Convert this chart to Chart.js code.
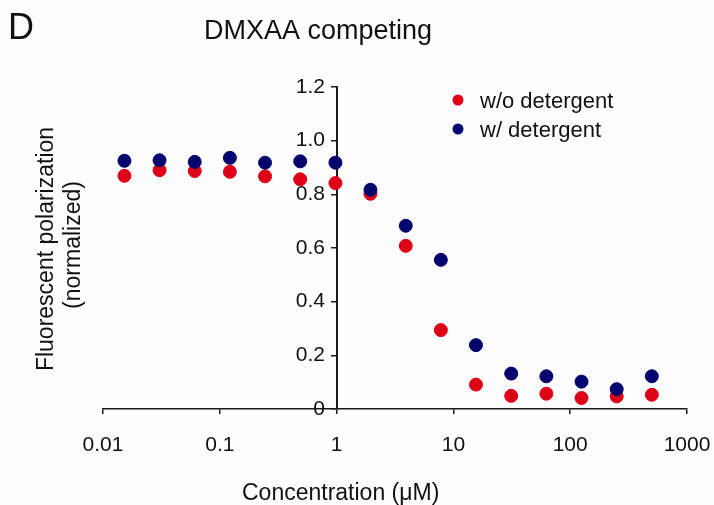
<!DOCTYPE html>
<html>
<head>
<meta charset="utf-8">
<script src="https://cdn.jsdelivr.net/npm/chart.js@4/dist/chart.umd.min.js"></script>
<style>
  body { margin: 0; background: #fdfdfd; }
  #wrap { width: 714px; height: 505px; }
</style>
</head>
<body>
<div id="wrap"><canvas id="fpChart"></canvas></div>
<script>
// concentrations (uM), two-fold dilution from 500
const concentrations = [0.01526, 0.0305, 0.061, 0.122, 0.244, 0.488, 0.977, 1.95, 3.91, 7.81, 15.6, 31.25, 62.5, 125, 250, 500];
const withoutDetergent = [0.869, 0.890, 0.887, 0.884, 0.867, 0.856, 0.842, 0.802, 0.608, 0.294, 0.091, 0.049, 0.057, 0.041, 0.047, 0.053];
const withDetergent = [0.925, 0.927, 0.921, 0.936, 0.918, 0.923, 0.918, 0.817, 0.683, 0.556, 0.238, 0.132, 0.122, 0.102, 0.074, 0.122];
const xTickValues = [0.01, 0.1, 1, 10, 100, 1000];
const yTickValues = [0, 0.2, 0.4, 0.6, 0.8, 1.0, 1.2];

const colors = {
  red: "rgb(221, 0, 22)",
  navy: "rgb(4, 4, 110)",
  axis: "#1a1a1a",
  text: "#111"
};
const fontFamily = "'Liberation Sans', Arial, sans-serif";

function toPoints(values) {
  return concentrations.map((c, i) => ({x: c, y: values[i]}));
}

// panel letter, title, axis titles and legend drawn on top
const annotations = {
  id: 'annotations',
  afterDraw(chart) {
    const ctx = chart.ctx;
    ctx.save();
    ctx.fillStyle = colors.text;
    ctx.textBaseline = 'alphabetic';
    ctx.textAlign = 'left';

    ctx.font = "36px " + fontFamily;
    ctx.fillText("D", 8, 39);

    ctx.font = "27px " + fontFamily;
    ctx.fillText("DMXAA competing", 204, 39);

    ctx.font = "23px " + fontFamily;
    ctx.fillText("Concentration (μM)", 242, 500);

    // y title, two lines rotated
    ctx.save();
    ctx.translate(47, 249);
    ctx.rotate(-Math.PI / 2);
    ctx.textAlign = 'center';
    ctx.textBaseline = 'middle';
    ctx.font = "23px " + fontFamily;
    ctx.fillText("Fluorescent polarization", 0, 0);
    ctx.fillText("(normalized)", 4, 27);
    ctx.restore();

    // legend
    ctx.font = "22px " + fontFamily;
    ctx.textBaseline = 'middle';
    chart.data.datasets.forEach((ds, i) => {
      const y = 102 + i * 29;
      ctx.beginPath();
      ctx.fillStyle = ds.backgroundColor;
      ctx.arc(458, y - 2, 5.5, 0, Math.PI * 2);
      ctx.fill();
      ctx.fillStyle = colors.text;
      ctx.fillText(ds.label, 480, y);
    });
    ctx.restore();
  }
};

const ctx = document.getElementById("fpChart").getContext('2d');
const chart = new Chart(ctx, {
  type: 'scatter',
  data: {
    datasets: [{
      label: "w/o detergent",
      data: toPoints(withoutDetergent),
      backgroundColor: colors.red,
      borderColor: colors.red,
      pointRadius: 6.5,
      order: 1
    }, {
      label: "w/ detergent",
      data: toPoints(withDetergent),
      backgroundColor: colors.navy,
      borderColor: colors.navy,
      pointRadius: 6.5,
      order: 0
    }]
  },
  options: {
    animation: false,
    responsive: true,
    maintainAspectRatio: false,
    layout: {
      padding: {top: 87, left: 103, right: 27, bottom: 36}
    },
    plugins: {
      legend: {display: false},
      tooltip: {enabled: false}
    },
    scales: {
      x: {
        type: 'logarithmic',
        position: 'bottom',
        min: 0.01,
        max: 1000,
        afterBuildTicks: (scale) => {
          scale.ticks = xTickValues.map(v => ({value: v}));
        },
        afterFit: (scale) => { scale.height = 60; },
        border: {color: colors.axis, width: 1.5},
        grid: {drawOnChartArea: false, tickLength: 5, color: colors.axis, lineWidth: 1.5},
        ticks: {
          color: colors.text,
          padding: 0,
          // tall line height pushes the labels down without widening the side padding
          font: {family: fontFamily, size: 21, lineHeight: '62px'},
          callback: (v) => String(v)
        }
      },
      y: {
        type: 'linear',
        position: {x: 1},
        min: 0,
        max: 1.2,
        afterBuildTicks: (scale) => {
          scale.ticks = yTickValues.map(v => ({value: v}));
        },
        border: {color: colors.axis, width: 2},
        grid: {drawOnChartArea: false, tickLength: 5, color: colors.axis, lineWidth: 1.5},
        ticks: {
          color: colors.text,
          padding: 7,
          font: {family: fontFamily, size: 21},
          // labels sit right at the axis when it is placed by value, pad them off it
          callback: (v) => (v === 0 ? '0' : v.toFixed(1)) + '  '
        }
      }
    }
  },
  plugins: [annotations]
});
</script>
</body>
</html>
